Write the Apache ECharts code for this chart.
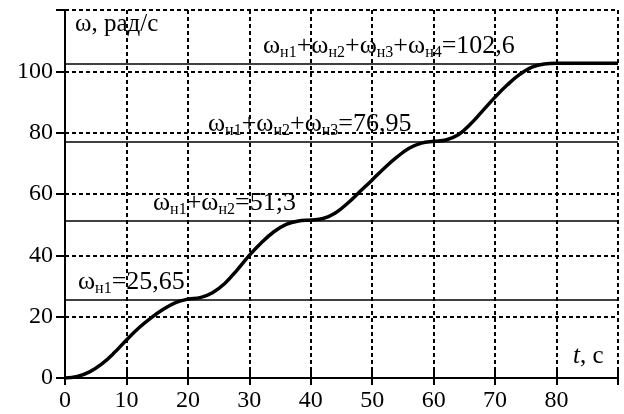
<!DOCTYPE html>
<html><head><meta charset="utf-8">
<script src="https://cdn.jsdelivr.net/npm/echarts@6/dist/echarts.min.js"></script>
<style>html,body{margin:0;padding:0;background:#fff}#c{width:624px;height:414px}</style>
</head><body><div id="c"></div>
<script>
const tValues = [0,2,4,6,8,10,12,14,16,18,20,22,24,26,28,30,32,34,36,38,40,42,44,46,48,50,52,54,56,58,60,62,64,66,68,70,72,74,76,78,80,85,90];
const omegaValues = [0,0.5,2,4.6,8.2,12.4,16.3,19.6,22.4,24.6,25.7,26.2,27.8,30.8,35.2,40,44.2,47.7,50.1,51.2,51.5,52,53.8,57,60.8,64.6,68.5,72,74.9,76.6,77.2,77.6,79.3,82.8,87.2,91.6,95.6,99,101.4,102.4,102.6,102.6,102.6];
const levels = [25.65, 51.3, 76.95, 102.6];
const levelTerms = [['н1'], ['н1','н2'], ['н1','н2','н3'], ['н1','н2','н3','н4']];
const levelTexts = ['25,65', '51;3', '76,95', '102,6'];
const xTicks = [0,10,20,30,40,50,60,70,80];
const yTicks = [0,20,40,60,80,100];

const serif = '"Liberation Serif","DejaVu Serif",serif';
const pads = [10, 85, 140, 195];
function levelLabel(i){
  const parts = levelTerms[i].map(s => '{w|ω}{s|' + s + '}');
  return parts.join('{n|+}') + '{n|=' + levelTexts[i] + '}';
}
const rich = {
  w:{fontFamily:serif,fontSize:26,color:'#000'},
  n:{fontFamily:serif,fontSize:26,color:'#000'},
  s:{fontFamily:serif,fontSize:16,color:'#000',padding:[13,0,0,0]}
};
const chart = echarts.init(document.getElementById('c'), null, {renderer:'canvas'});
const gridDash = {color:'#000', width:2, type:[4,3]};
chart.setOption({
  animation:false,
  grid:{left:65,right:6,top:10,bottom:36,containLabel:false},
  xAxis:[{
    type:'value',min:0,max:90,interval:10,
    axisLine:{show:true,onZero:false,lineStyle:{color:'#000',width:2}},
    axisTick:{show:true,length:7,lineStyle:{color:'#000',width:2}},
    axisLabel:{fontFamily:serif,fontSize:24,color:'#000',margin:11,
      formatter:v => xTicks.includes(v) ? String(v) : ''},
    splitLine:{show:true,lineStyle:gridDash}
  },{
    type:'value',min:0,max:90,interval:10,position:'bottom',
    axisLine:{show:false},
    axisTick:{show:true,inside:true,length:8,lineStyle:{color:'#000',width:2}},
    axisLabel:{show:false},splitLine:{show:false}
  }],
  yAxis:{
    type:'value',min:0,max:120,interval:20,
    axisLine:{show:true,onZero:false,lineStyle:{color:'#000',width:2}},
    axisTick:{show:true,length:9,lineStyle:{color:'#000',width:2}},
    axisLabel:{fontFamily:serif,fontSize:24,color:'#000',margin:12,
      formatter:v => yTicks.includes(v) ? String(v) : ''},
    splitLine:{show:true,lineStyle:gridDash}
  },
  graphic:[
    {type:'text',left:75,top:12,style:{text:'ω, рад/с',font:'25px '+serif,fill:'#000'}},
    {type:'text',left:573,top:344,style:{
      text:'{i|t}{r|, с}',
      rich:{i:{fontFamily:serif,fontStyle:'italic',fontSize:25,fill:'#000'},r:{fontFamily:serif,fontSize:25,fill:'#000'}}
    }}
  ],
  series:[{
    type:'line',
    data:tValues.map((t,i)=>[t,omegaValues[i]]),
    smooth:0.4,
    showSymbol:false,
    lineStyle:{color:'#000',width:3.5},
    z:5,
    markLine:{
      silent:true,symbol:'none',
      lineStyle:{color:'#000',width:1.6,type:'solid'},
      data:levels.map((v,i)=>({
        yAxis:v,
        label:{show:true,position:'insideStartTop',distance:3,
          padding:[0,0,0,pads[i]],
          formatter:levelLabel(i),rich:rich}
      }))
    }
  }]
});
</script></body></html>
